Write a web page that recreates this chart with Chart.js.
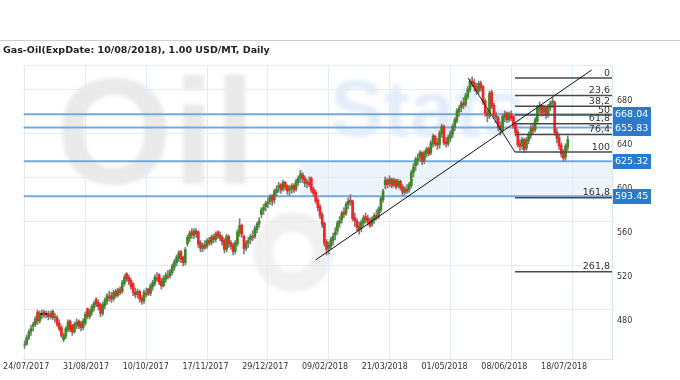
<!DOCTYPE html>
<html><head><meta charset="utf-8">
<script src="https://cdn.jsdelivr.net/npm/chart.js@4.4.1/dist/chart.umd.min.js"></script>
<style>
html,body{margin:0;padding:0;background:#fff;}
#wrap{position:relative;width:680px;height:380px;overflow:hidden;}
#topline{position:absolute;left:0;top:40px;width:680px;height:1px;background:#d0d0d0;}
#title{position:absolute;left:3px;top:44px;font:bold 9.5px 'DejaVu Sans',Verdana,sans-serif;color:#222;white-space:nowrap;}
canvas{position:absolute;left:0;top:0;}
</style></head><body>
<div id="wrap"><canvas id="c" width="680" height="380"></canvas><div id="topline"></div><div id="title">Gas-Oil(ExpDate: 10/08/2018), 1.00 USD/MT, Daily</div></div>
<script>
// ---- data ----
const xTickLabels = ['24/07/2017','31/08/2017','10/10/2017','17/11/2017','29/12/2017','09/02/2018','21/03/2018','01/05/2018','08/06/2018','18/07/2018'];
const xTickStep = 28; // trading days between date labels
const yTickValues = [480,520,560,600,640,680];
const priceLevels = [668.04,655.83,625.32,593.45];
const fibLevels = [0,23.6,38.2,50,61.8,76.4,100,161.8,261.8];
const fibLabels = ['0','23,6','38,2','50','61,8','76,4','100','161,8','261,8'];
const fibHigh = [204.1,700.9];   // [bar index, price]
const fibLow = [225.7,633.6];
const trendLine = [[134,535.5],[261,708.2]];
// daily candles [open, high, low, close]
const candles = [
[458,462,455,459],[459,467,458,465],[465,472,463,470],[470,476,467,473],[475,479,471,477],
[477,484,475,482],[488,490,477,480],[480,489,478,487],[486,490,482,486],[488,490,483,485],
[486,489,483,486],[487,489,481,484],[484,489,482,487],[489,490,481,483],[483,487,479,484],
[483,485,475,477],[478,481,471,473],[474,476,465,467],[463,469,461,467],[466,475,464,473],
[472,481,470,479],[480,481,470,472],[476,477,467,470],[470,479,469,477],[476,482,473,479],
[480,481,473,475],[478,480,471,474],[474,482,472,480],[478,488,476,486],[491,492,482,484],
[484,491,482,489],[488,495,485,493],[492,498,489,496],[500,501,493,495],[497,499,490,493],
[495,496,484,487],[487,497,485,495],[494,501,491,499],[498,505,495,503],[502,507,498,501],
[503,506,497,500],[500,508,498,506],[507,509,501,503],[503,510,502,508],[509,511,504,506],
[507,517,505,515],[514,522,512,520],[523,524,516,518],[520,522,513,516],[517,519,509,511],
[514,515,503,506],[506,510,501,504],[504,509,501,507],[507,508,497,500],[501,503,495,498],
[498,508,496,506],[505,510,502,504],[509,510,503,505],[505,514,503,512],[511,517,508,515],
[514,522,512,520],[519,524,516,518],[522,523,513,515],[516,519,509,512],[512,521,511,519],
[518,524,515,522],[521,526,518,520],[521,527,519,525],[524,532,522,530],[529,536,526,534],
[533,540,530,538],[537,544,534,542],[543,544,533,536],[538,539,530,533],[533,547,531,545],
[550,558,548,556],[555,562,552,560],[561,564,555,558],[558,564,555,562],[562,564,556,559],
[561,562,547,550],[551,553,543,546],[546,551,543,549],[549,553,545,547],[548,555,546,553],
[553,556,549,551],[551,558,549,556],[557,559,551,554],[554,561,552,559],[561,562,555,557],
[558,561,553,555],[556,558,549,552],[553,555,542,545],[545,559,543,557],[557,558,547,550],
[551,553,545,548],[549,551,540,543],[543,553,541,551],[550,563,548,561],[560,573,557,567],
[567,568,556,559],[557,558,541,546],[546,553,544,551],[551,556,547,553],[554,559,550,557],
[557,562,553,556],[557,566,555,564],[563,570,560,568],[568,574,565,571],[577,583,574,581],
[581,586,577,583],[584,589,580,587],[587,592,583,588],[589,595,586,593],[594,595,585,589],
[590,600,587,598],[597,603,594,600],[601,606,597,603],[604,605,596,599],[600,608,598,606],
[606,607,599,602],[603,604,595,598],[599,603,594,601],[600,605,596,603],[603,605,597,599],
[600,609,598,607],[606,612,603,610],[610,617,606,614],[613,615,606,609],[610,612,602,605],
[605,609,601,607],[606,611,602,604],[610,611,597,599],[600,602,593,596],[597,599,587,589],
[590,592,580,583],[584,586,573,576],[577,579,565,568],[569,570,548,551],[552,554,540,545],
[546,552,541,549],[548,556,545,554],[553,560,549,557],[558,565,554,561],[562,571,559,569],
[569,575,565,571],[572,580,569,578],[579,583,574,577],[578,588,576,586],[586,592,582,589],
[590,595,585,588],[589,590,571,573],[574,578,566,571],[571,573,562,565],[566,570,559,563],
[564,572,561,570],[569,576,566,574],[575,578,569,572],[573,576,567,570],[571,574,565,567],
[568,575,566,573],[572,578,569,576],[576,581,572,574],[575,584,573,582],[581,593,579,591],
[590,600,588,598],[604,611,600,608],[608,610,601,604],[605,612,602,609],[609,610,601,603],
[604,610,602,608],[608,609,600,602],[603,609,601,607],[607,608,599,601],[602,604,594,597],
[597,602,595,600],[600,604,596,598],[599,606,597,604],[603,617,601,615],[615,623,611,620],
[621,629,617,627],[626,632,622,628],[629,635,626,633],[633,634,622,625],[626,635,623,633],
[632,638,629,636],[637,638,630,632],[633,644,631,642],[641,650,638,648],[648,649,639,641],
[642,646,636,640],[640,653,637,651],[650,659,647,657],[657,658,640,642],[643,647,638,641],
[641,649,639,647],[646,653,643,651],[650,659,647,657],[656,665,653,663],[662,673,660,671],
[670,676,666,673],[674,680,670,678],[678,683,673,676],[677,687,675,685],[684,693,682,691],
[690,700,688,698],[698,702,693,696],[697,700,689,693],[693,696,686,689],[689,698,687,696],
[696,698,689,692],[693,694,677,679],[680,682,666,669],[669,672,661,667],[666,689,664,687],
[688,690,673,675],[676,678,664,667],[667,670,660,665],[665,666,653,656],[657,661,649,654],
[654,668,652,666],[665,671,661,668],[669,670,660,663],[663,670,661,668],[668,671,662,664],
[666,667,655,657],[658,660,648,651],[652,654,638,640],[641,645,635,639],[639,647,636,645],
[645,646,633,636],[637,647,635,645],[644,652,641,650],[649,658,646,655],[656,660,650,653],
[654,665,652,663],[662,676,660,673],[672,679,668,675],[676,677,666,669],[670,676,667,674],
[674,675,664,667],[668,677,665,675],[674,680,671,678],[678,683,674,680],[679,680,649,651],
[652,655,642,646],[647,650,636,639],[640,642,629,632],[633,636,625,628],[629,641,626,639],
[638,648,635,645]
];

// ---- view range ----
const X_MIN = -0.46, X_MAX = 270.36;
const Y_MIN = 445.45, Y_MAX = 712.73;
const GRID_SHIFT = 10.9;
const X2_MIN = -1.26, X2_MAX = 274.43;

const GREEN = '#3a8a22', RED = '#ff1f1f', DOJI = '#111', WICK = '#7c7c7c';
const fibValue = p => fibHigh[1] - (fibHigh[1] - fibLow[1]) * p / 100;

const wickData = candles.map((c,i)=>({x:i, y:[c[2], c[1]]}));
const bodyData = candles.map((c,i)=>({x:i, y:[c[0], c[3]]}));
const bodyColors = candles.map(c => c[3] > c[0] ? GREEN : (c[3] < c[0] ? RED : DOJI));

const lineDs = (pts, color, width, order) => ({
  type:'line', data: pts.map(p=>({x:p[0], y:p[1]})), borderColor:color, borderWidth:width,
  pointRadius:0, tension:0, fill:false, order, xAxisID:'x', yAxisID:'y'
});

const datasets = [];
priceLevels.forEach(v => datasets.push(lineDs([[X_MIN,v],[X_MAX,v]], '#74a9de', 2, 10)));
datasets.push({type:'bar', data:wickData, backgroundColor:WICK, barThickness:1, order:8, xAxisID:'x', yAxisID:'y'});
datasets.push({type:'bar', data:bodyData, backgroundColor:bodyColors, barThickness:2, minBarLength:1, order:7, xAxisID:'x', yAxisID:'y'});
fibLevels.forEach(p => { const v = fibValue(p); datasets.push(lineDs([[fibLow[0],v],[X_MAX,v]], '#4a4a4a', 1.5, 5)); });
datasets.push(lineDs([fibHigh, fibLow], '#222', 1, 4));
datasets.push(lineDs(trendLine, '#111', 1, 3));

const watermark = {
  id:'wm',
  beforeDraw(chart){
    const {ctx, chartArea:a, scales:{y}} = chart;
    ctx.save();
    ctx.beginPath(); ctx.rect(a.left, a.top, a.right-a.left, a.bottom-a.top); ctx.clip();
    const y1 = y.getPixelForValue(priceLevels[2]), y2 = y.getPixelForValue(priceLevels[3]);
    ctx.fillStyle = '#eef4fb'; ctx.fillRect(300, y1, a.right-300, y2-y1);
    ctx.filter = 'blur(2px)';
    ctx.fillStyle = '#e9e9e9'; ctx.font = "bold 150px 'Liberation Sans'";
    ctx.fillText('Oil', 56, 184);
    ctx.fillStyle = '#e3edf8'; ctx.font = "bold 80px 'Liberation Sans'";
    ctx.fillText('Stats', 330, 136);
    ctx.strokeStyle = '#f0f0f0'; ctx.lineWidth = 20;
    ctx.beginPath(); ctx.arc(293, 252, 30, 0, Math.PI*2); ctx.stroke();
    ctx.restore();
  }
};

const overlay = {
  id:'ov',
  afterDraw(chart){
    const {ctx, chartArea:a, scales:{y}} = chart;
    ctx.save();
    ctx.font = "9.5px 'DejaVu Sans'"; ctx.fillStyle = '#333';
    ctx.textAlign = 'right'; ctx.textBaseline = 'alphabetic';
    fibLevels.forEach((p,k) => ctx.fillText(fibLabels[k], a.right-2, y.getPixelForValue(fibValue(p)) - 2.5));
    priceLevels.forEach(v => {
      const py = Math.round(y.getPixelForValue(v));
      ctx.fillStyle = '#2a7bd0'; ctx.fillRect(a.right+1, py-7, 38, 15);
      ctx.fillStyle = '#fff'; ctx.textAlign = 'left'; ctx.textBaseline = 'middle';
      ctx.fillText(v.toFixed(2), a.right+3, py+1);
    });
    ctx.restore();
  }
};

const gridColor = '#e2ecf6';
new Chart(document.getElementById('c'), {
  type:'bar',
  data:{datasets},
  plugins:[watermark, overlay],
  options:{
    responsive:false, animation:false, devicePixelRatio:1,
    layout:{padding:{left:22, top:65, right:0, bottom:0}},
    plugins:{legend:{display:false}, tooltip:{enabled:false}, title:{display:false}},
    datasets:{bar:{grouped:false}},
    scales:{
      x:{type:'linear', position:'bottom', min:X_MIN, max:X_MAX, offset:false,
        grid:{color:gridColor, offset:false, drawTicks:false},
        border:{color:'#d6e5f3'},
        ticks:{display:false},
        afterBuildTicks: s => { s.ticks = xTickLabels.map((_,k)=>({value:k*xTickStep})); },
        afterFit: s => { s.height = 0; }
      },
      x2:{type:'linear', position:'bottom', min:X2_MIN, max:X2_MAX, offset:false,
        grid:{display:false, drawTicks:false}, border:{display:false},
        ticks:{color:'#333', font:{family:'DejaVu Sans', size:8}, padding:3, maxRotation:0, autoSkip:false,
          callback: v => xTickLabels[Math.round(v/xTickStep)]},
        afterBuildTicks: s => { s.ticks = xTickLabels.map((_,k)=>({value:k*xTickStep})); },
        afterFit: s => { s.height = 21; }
      },
      y:{type:'linear', position:'right', min:Y_MIN, max:Y_MAX,
        grid:{display:false, drawTicks:false},
        border:{color:'#d6e5f3'},
        ticks:{color:'#333', font:{family:'DejaVu Sans', size:8}, padding:5, autoSkip:false,
          callback: v => String(v)},
        afterBuildTicks: s => { s.ticks = yTickValues.map(v=>({value:v})); },
        afterFit: s => { s.width = 68; }
      },
      yg:{type:'linear', position:'left', min:Y_MIN-GRID_SHIFT, max:Y_MAX-GRID_SHIFT,
        grid:{color:gridColor, drawTicks:false}, border:{display:false},
        ticks:{display:false, stepSize:40},
        afterFit: s => { s.width = 0; }
      }
    }
  }
});
</script>
</body></html>
